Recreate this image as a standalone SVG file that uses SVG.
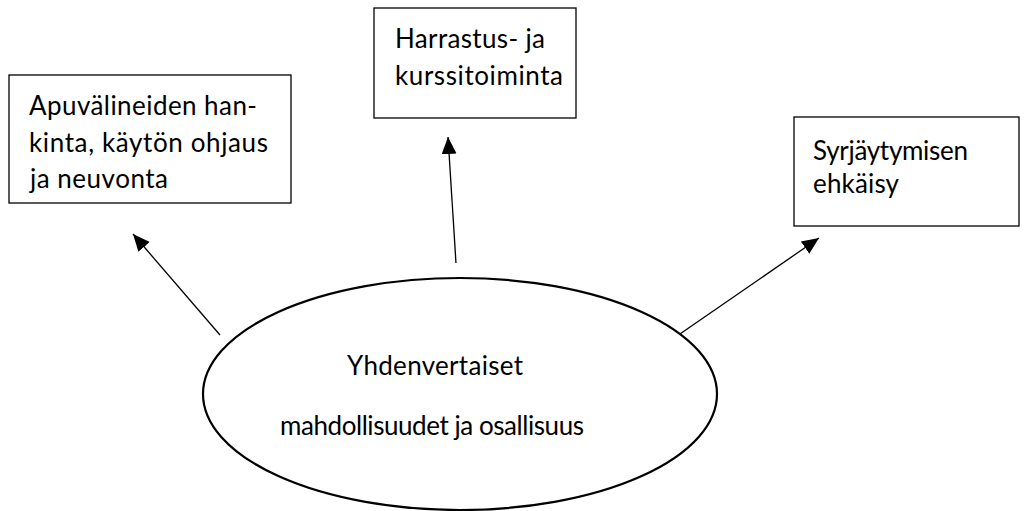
<svg xmlns="http://www.w3.org/2000/svg" width="1026" height="511" viewBox="0 0 1026 511">
<style>
.box{fill:#fff;stroke:#000;stroke-width:1.3}
.t{font-family:Lato,"Open Sans","Liberation Sans",sans-serif;font-size:26px;fill:#000}
.c{stroke:#000;stroke-width:1.3;fill:none}
</style>
<defs>
<marker id="ah" markerUnits="userSpaceOnUse" markerWidth="20" markerHeight="16" refX="17" refY="7.5" orient="auto">
<path d="M0,0 L17,7.5 L0,15 Z" fill="#000"/>
</marker>
</defs>
<rect width="1026" height="511" fill="#fff"/>
<g id="connectors">
<line class="c" x1="220" y1="335" x2="133" y2="234" marker-end="url(#ah)"/>
<line class="c" x1="456" y1="263" x2="448" y2="137" marker-end="url(#ah)"/>
<line class="c" x1="677" y1="336" x2="819" y2="238" marker-end="url(#ah)"/>
</g>
<g id="node-apuvalineet">
<rect class="box" x="9" y="75" width="282" height="128"/>
<text class="t" x="29" y="115" textLength="228">Apuvälineiden han-</text>
<text class="t" x="29" y="152" textLength="239">kinta, käytön ohjaus</text>
<text class="t" x="30" y="188" textLength="138">ja neuvonta</text>
</g>
<g id="node-harrastus">
<rect class="box" x="374" y="8" width="202" height="110"/>
<text class="t" x="395" y="48" textLength="150">Harrastus- ja</text>
<text class="t" x="395" y="85" textLength="168">kurssitoiminta</text>
</g>
<g id="node-syrjaytyminen">
<rect class="box" x="794" y="117" width="225" height="109"/>
<text class="t" x="813" y="160" textLength="155">Syrjäytymisen</text>
<text class="t" x="813" y="193" textLength="86">ehkäisy</text>
</g>
<g id="node-center">
<ellipse cx="460" cy="394" rx="257" ry="116" fill="#fff" stroke="#000" stroke-width="2.2"/>
<text class="t" x="347" y="375" textLength="176">Yhdenvertaiset</text>
<text class="t" x="280" y="435" textLength="304">mahdollisuudet ja osallisuus</text>
</g>
</svg>
